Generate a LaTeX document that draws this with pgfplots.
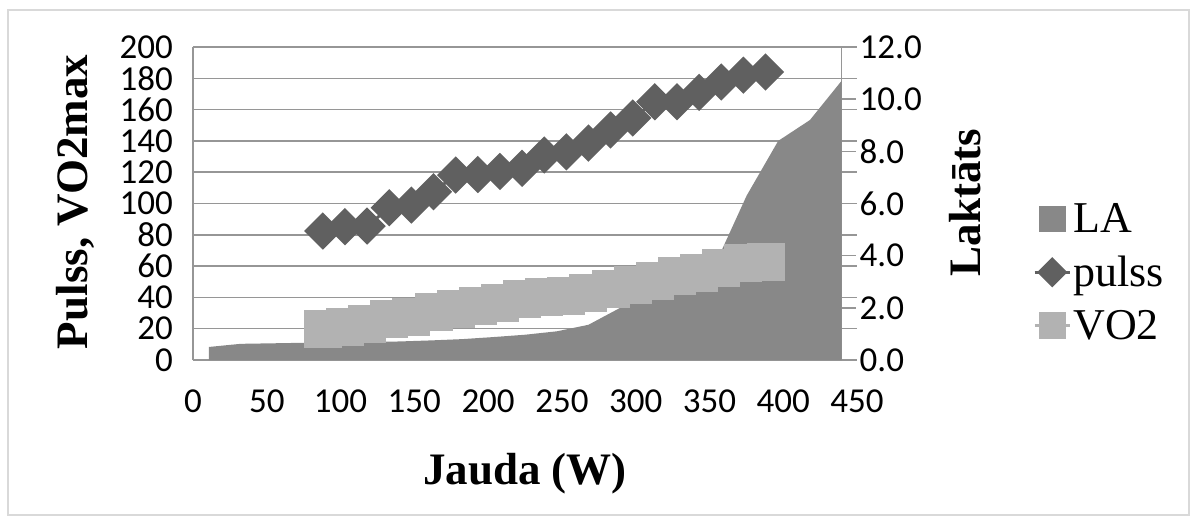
\documentclass[border=0pt]{standalone}
\usepackage{fontspec}
\setmainfont{Liberation Serif}
\newfontfamily\calibri{Carlito}
\usepackage{pgfplots}
\pgfplotsset{compat=1.18}
\definecolor{LAgray}{RGB}{136,136,136}
\definecolor{pulsgray}{RGB}{96,96,96}
\definecolor{vogray}{RGB}{178,178,178}
\definecolor{gridgray}{RGB}{150,150,150}
\definecolor{bordergray}{RGB}{217,217,217}

\begin{document}
\begin{tikzpicture}
\path[use as bounding box] (-193pt,-163pt) rectangle (1004pt,360pt);
\draw[bordergray, line width=1.5pt] (-185pt,-155pt) rectangle (996pt,350pt);

% primary axis: grid, left axis, x tick labels
\begin{axis}[
  at={(0pt,0pt)}, anchor=south west,
  scale only axis, width=664pt, height=313pt,
  xmin=0, xmax=450, ymin=0, ymax=200,
  axis x line*=bottom, axis y line*=left,
  axis line style={gridgray, line width=1.5pt, -},
  xtick={0,50,...,450}, ytick={0,20,...,200},
  tick style={draw=none},
  ymajorgrids, grid style={gridgray, line width=1.5pt},
  /pgf/number format/assume math mode=true,
  tick label style={font=\calibri\fontsize{35}{35}\selectfont, inner sep=0pt},
  xticklabel style={anchor=north, yshift=-30pt},
  yticklabel style={anchor=east, xshift=-20pt},
  xlabel={Jauda (W)}, ylabel={Pulss, VO2max},
  label style={font=\bfseries\fontsize{45}{45}\selectfont},
  xlabel style={at={(axis description cs:0.5,-0.364)}, anchor=center},
  ylabel style={at={(axis description cs:-0.177,0.505)}, anchor=center},
]
\end{axis}

% secondary axis: LA area
\begin{axis}[
  at={(0pt,0pt)}, anchor=south west,
  scale only axis, width=648.5pt, height=313pt,
  xmin=0, xmax=439.5, ymin=0, ymax=12,
  axis x line=none, axis y line*=right,
  axis line style={gridgray, line width=1.5pt, -},
  ytick={0,2,...,12},
  tick align=outside, major tick length=14pt,
  ytick style={gridgray, line width=1.5pt},
  /pgf/number format/assume math mode=true,
  yticklabel={\pgfmathprintnumber[fixed,fixed zerofill,precision=1]{\tick}},
  yticklabel style={font=\calibri\fontsize{35}{35}\selectfont, inner sep=0pt, anchor=west, xshift=4pt},
  ylabel={Laktāts},
  ylabel style={font=\bfseries\fontsize{45}{45}\selectfont, at={(axis description cs:1.191,0.503)}, anchor=center},
]
\addplot[fill=LAgray, draw=none] coordinates {
(10.8,0.50) (32.2,0.62) (53.7,0.64) (75.1,0.66) (96.5,0.68) (118.0,0.69)
(139.4,0.71) (160.8,0.75) (182.3,0.80) (203.7,0.88) (225.2,0.97) (246.6,1.10)
(268.0,1.35) (289.5,2.00) (310.9,2.50) (332.3,3.00) (353.8,3.65) (375.2,6.30)
(396.6,8.40) (418.1,9.20) (439.5,10.70)
} \closedcycle;
\end{axis}

% primary axis again: pulss and VO2, legend
\begin{axis}[
  at={(0pt,0pt)}, anchor=south west,
  scale only axis, width=664pt, height=313pt,
  xmin=0, xmax=450, ymin=0, ymax=200,
  hide axis, clip=false,
  legend cell align=left,
  legend style={at={(axis description cs:1.2651,0.280)}, anchor=west,
    draw=none, fill=none, inner sep=0pt, row sep=18pt,
    font=\fontsize{44}{44}\selectfont},
]
\addlegendimage{legend image code/.code={\fill[LAgray] (4pt,-12.5pt) rectangle (30pt,12.5pt);}}
\addlegendentry{LA}
\addplot[pulsgray, line width=3pt, mark=square*, mark size=11.7pt, mark options={rotate=45, solid},
  legend image code/.code={\draw[pulsgray, line width=3pt] (0pt,0pt) -- (35pt,0pt);
    \fill[pulsgray] (17.5pt,13pt) -- (30.5pt,0pt) -- (17.5pt,-13pt) -- (4.5pt,0pt) -- cycle;}]
coordinates {
(88,82.4) (103,85.2) (118,85.6) (133,97.3) (148,99.0) (163,107.5) (178,118.2)
(193,118.5) (208,120.5) (223,122.5) (238,131.0) (253,133.0) (268,138.6) (283,147.0)
(298,154.6) (313,165.0) (328,165.0) (343,171.0) (358,177.6) (373,182.0) (388,184.0)
};
\addlegendentry{pulss}
\addplot[vogray, line width=3pt, mark=square*, mark size=17.5pt, mark options={solid},
  legend image code/.code={\draw[vogray, line width=3pt] (0pt,0pt) -- (35pt,0pt);
    \fill[vogray] (5.5pt,-12pt) rectangle (29.5pt,12pt);}]
coordinates {
(88,19.5) (103,21.4) (118,22.7) (133,25.9) (148,27.2) (163,30.4) (178,32.9)
(193,34.8) (208,36.7) (223,38.7) (238,40.0) (253,41.2) (268,43.1) (283,45.4)
(298,48.0) (313,50.6) (328,53.8) (343,55.9) (358,59.1) (373,62.3) (388,62.7)
};
\addlegendentry{VO2}
\end{axis}
\end{tikzpicture}
\end{document}
